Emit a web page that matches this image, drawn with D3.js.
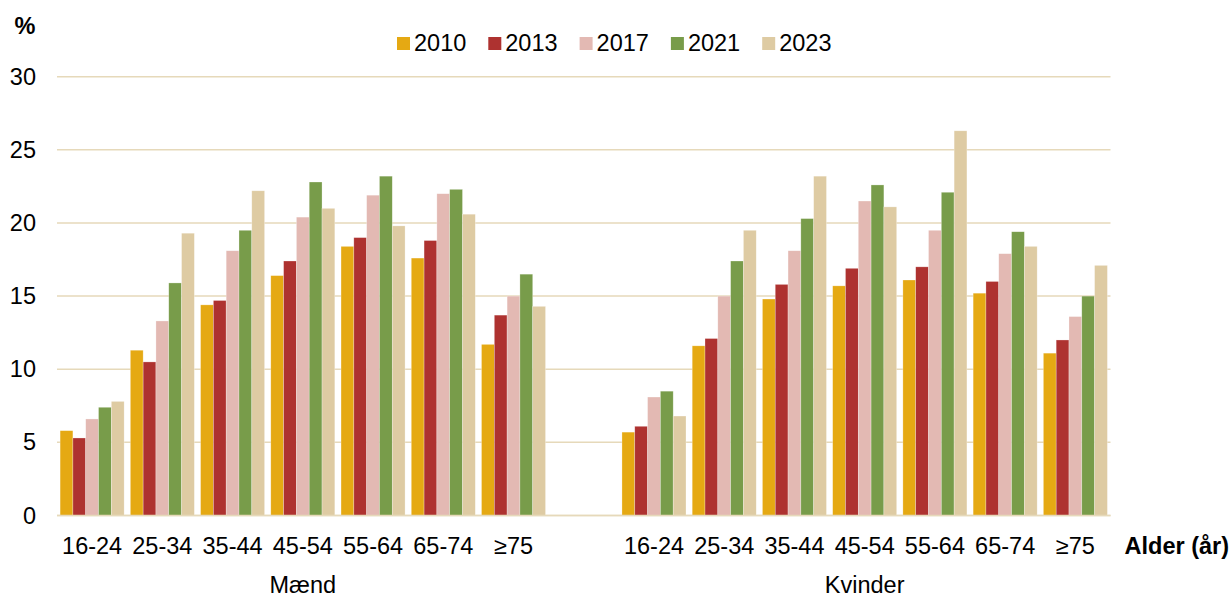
<!DOCTYPE html>
<html>
<head>
<meta charset="utf-8">
<script src="https://cdn.jsdelivr.net/npm/d3@7/dist/d3.min.js"></script>
<style>
  html, body { margin: 0; padding: 0; background: #fff; }
  svg { display: block; font-family: "Liberation Sans", Arial, sans-serif; }
</style>
</head>
<body>
<svg id="chart" width="1232" height="599"></svg>
<script>
// ---- Data ----
const years = ["2010", "2013", "2017", "2021", "2023"];
const ageGroups = ["16-24", "25-34", "35-44", "45-54", "55-64", "65-74", "≥75"];
const sexes = ["Mænd", "Kvinder"];
const yTicks = [0, 5, 10, 15, 20, 25, 30];
const colors = ["#E5A913", "#AE3230", "#E3B9B3", "#789C4A", "#DECBA3"];

// values per year, age groups in order
const maend2010 = [5.8, 11.3, 14.4, 16.4, 18.4, 17.6, 11.7];
const maend2013 = [5.3, 10.5, 14.7, 17.4, 19.0, 18.8, 13.7];
const maend2017 = [6.6, 13.3, 18.1, 20.4, 21.9, 22.0, 15.0];
const maend2021 = [7.4, 15.9, 19.5, 22.8, 23.2, 22.3, 16.5];
const maend2023 = [7.8, 19.3, 22.2, 21.0, 19.8, 20.6, 14.3];

const kvinder2010 = [5.7, 11.6, 14.8, 15.7, 16.1, 15.2, 11.1];
const kvinder2013 = [6.1, 12.1, 15.8, 16.9, 17.0, 16.0, 12.0];
const kvinder2017 = [8.1, 15.0, 18.1, 21.5, 19.5, 17.9, 13.6];
const kvinder2021 = [8.5, 17.4, 20.3, 22.6, 22.1, 19.4, 15.0];
const kvinder2023 = [6.8, 19.5, 23.2, 21.1, 26.3, 18.4, 17.1];

const seriesBySex = {
  "Mænd": [maend2010, maend2013, maend2017, maend2021, maend2023],
  "Kvinder": [kvinder2010, kvinder2013, kvinder2017, kvinder2021, kvinder2023]
};

// slots: 7 Mænd, one empty gap, 7 Kvinder
const slots = [];
ageGroups.forEach((a, i) => slots.push({ key: "M" + i, sex: "Mænd", age: a, idx: i }));
slots.push({ key: "gap", sex: null });
ageGroups.forEach((a, i) => slots.push({ key: "K" + i, sex: "Kvinder", age: a, idx: i }));

// ---- Layout ----
const svg = d3.select("#chart");
const plotLeft = 57, plotRight = 1110.5, plotTop = 76.7, plotBottom = 515.5;
const fontSize = 23.5;

const x0 = d3.scaleBand().domain(slots.map(s => s.key)).range([plotLeft, plotRight]).paddingInner(0).paddingOuter(0);
const x1 = d3.scaleBand().domain(years).range([0, x0.bandwidth()]).paddingInner(0).paddingOuter(0.242);
const y = d3.scaleLinear().domain([0, 30]).range([plotBottom, plotTop]);

// gridlines
svg.append("g").selectAll("line").data(yTicks).join("line")
  .attr("x1", plotLeft).attr("x2", plotRight)
  .attr("y1", d => y(d)).attr("y2", d => y(d))
  .attr("stroke", "#E6D9BA").attr("stroke-width", 1.5);

// y-axis labels
const yAxis = d3.axisLeft(y).tickValues(yTicks).tickSize(0).tickPadding(0).tickFormat(d3.format("d"));
const yg = svg.append("g").attr("transform", `translate(36,0)`).call(yAxis);
yg.select(".domain").remove();
yg.selectAll("text").attr("font-size", fontSize).attr("fill", "#000")
  .attr("font-family", "Liberation Sans, Arial, sans-serif");

// bars
const dataSlots = slots.filter(s => s.sex);
const groups = svg.append("g").selectAll("g").data(dataSlots).join("g")
  .attr("transform", d => `translate(${x0(d.key)},0)`);
groups.selectAll("rect")
  .data(d => years.map((yr, j) => ({ yr, j, v: seriesBySex[d.sex][j][d.idx] })))
  .join("rect")
  .attr("x", d => x1(d.yr))
  .attr("width", x1.bandwidth())
  .attr("y", d => y(d.v))
  .attr("height", d => y(0) - y(d.v))
  .attr("fill", d => colors[d.j])
  .attr("stroke", "rgba(255,255,255,0.45)")
  .attr("stroke-width", 0.6);

// x-axis (zero line)
svg.append("line").attr("x1", plotLeft).attr("x2", plotRight)
  .attr("y1", y(0)).attr("y2", y(0))
  .attr("stroke", "#E6D9BA").attr("stroke-width", 1.5);

// category labels
const xAxis = d3.axisBottom(x0).tickSize(0).tickPadding(0)
  .tickFormat(k => { const s = slots.find(o => o.key === k); return s.sex ? s.age : ""; });
const xg = svg.append("g").attr("transform", `translate(0,${plotBottom})`).call(xAxis);
xg.select(".domain").remove();
xg.selectAll("text").attr("font-size", fontSize).attr("fill", "#000")
  .attr("font-family", "Liberation Sans, Arial, sans-serif")
  .attr("dy", null).attr("y", 38);

// group labels (Mænd / Kvinder)
sexes.forEach(sx => {
  const keys = slots.filter(s => s.sex === sx).map(s => s.key);
  const cx = (x0(keys[0]) + x0(keys[keys.length - 1]) + x0.bandwidth()) / 2;
  svg.append("text").attr("x", cx).attr("y", 593).attr("text-anchor", "middle")
    .attr("font-size", fontSize).attr("fill", "#000").text(sx);
});

// axis titles
svg.append("text").attr("x", 1229).attr("y", 553.5).attr("text-anchor", "end")
  .attr("font-size", fontSize).attr("font-weight", "bold").attr("fill", "#000").text("Alder (år)");
svg.append("text").attr("x", 25).attr("y", 34).attr("text-anchor", "middle")
  .attr("font-size", fontSize).attr("font-weight", "bold").attr("fill", "#000").text("%");

// legend
const legend = svg.append("g").selectAll("g").data(years).join("g")
  .attr("transform", (d, i) => `translate(${397 + i * 91.3},0)`);
legend.append("rect").attr("x", 0).attr("y", 37).attr("width", 13).attr("height", 13)
  .attr("fill", (d, i) => colors[i]);
legend.append("text").attr("x", 17).attr("y", 50.5).attr("font-size", fontSize)
  .attr("fill", "#000").text(d => d);
</script>
</body>
</html>
